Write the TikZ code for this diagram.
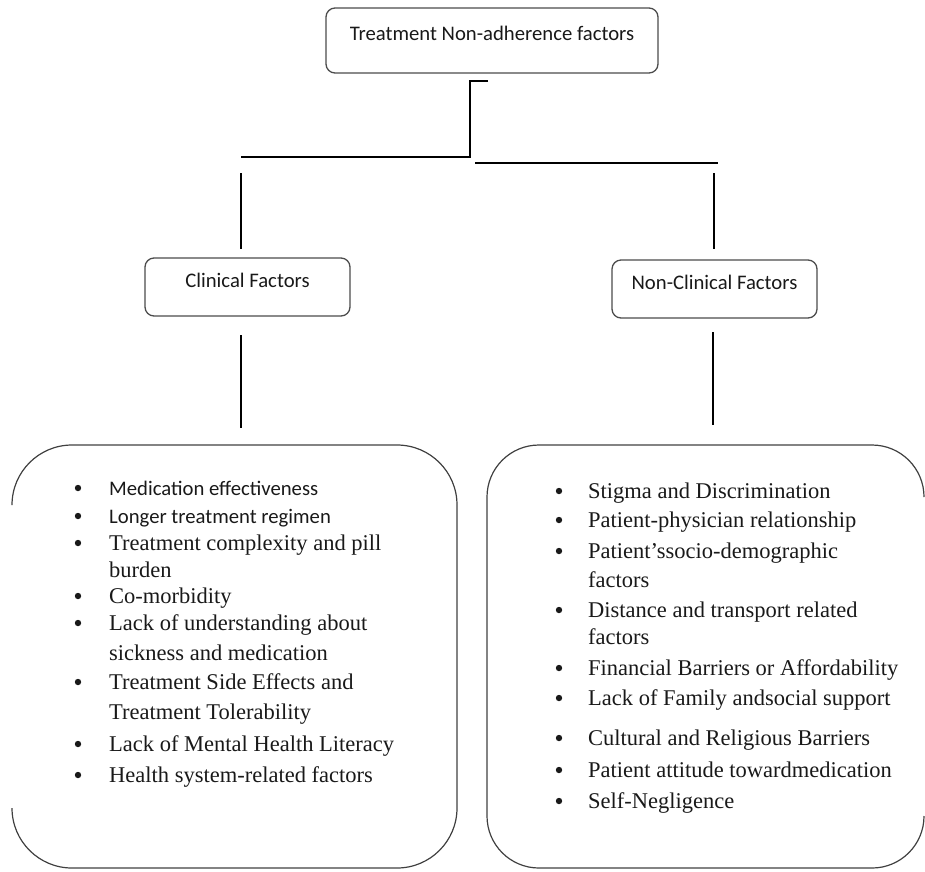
\documentclass[tikz,border=0pt]{standalone}
\usepackage{fontspec}
\setmainfont{Liberation Serif}
\newfontfamily\carlito{Carlito}
\newcommand{\calfont}{\carlito\fontsize{20.7}{24}\selectfont}

\tikzset{
  factorbox/.style={draw=black!70, line width=1.3pt, rounded corners=9pt,
    font=\calfont, text=black!90, text height=14pt, text depth=14pt,
    minimum width=205pt, minimum height=58pt},
  listbox/.style={draw=black!75, line width=1.2pt, rounded corners=#1},
  link/.style={line width=1.2pt, line join=miter},
  itemline/.style={anchor=base west, inner sep=0pt, text=black!90,
    font=\fontsize{22.5}{26}\selectfont},
}

\begin{document}
\begin{tikzpicture}[x=1pt, y=-1pt]
  \useasboundingbox (0,0) rectangle (925,871);

  \node[factorbox, minimum width=332pt, minimum height=65pt] (top) at (492,40.5) {Treatment Non-adherence factors};
  \node[factorbox] (clinical) at (247.5,287) {Clinical Factors};
  \node[factorbox] (nonclinical) at (714.5,289) {Non-Clinical Factors};

  \coordinate (tick) at (488,81);
  \coordinate (elbow) at (470,81);
  \coordinate (split) at (470,157);
  \coordinate (leftend) at (241,157);
  \coordinate (rstart) at (475,163);
  \coordinate (rend) at (718,163);
  \draw[link] (tick) -- (elbow) -- (split) -- (leftend);
  \draw[link] (rstart) -- (rend);
  \foreach \name/\x/\ya/\yb in {cu/241/173/249, nu/714/173/249, cd/241/335/428, nd/713/332/425} {
    \coordinate (\name-a) at (\x,\ya);
    \coordinate (\name-b) at (\x,\yb);
    \draw[link] (\name-a) -- (\name-b);
  }

  \draw[listbox=60pt] (12,505) -- (12,445) -- (457,445) -- (457,868) -- (12,868) -- (12,808);
  \draw[listbox=52pt] (924,497) -- (924,445) -- (487,445) -- (487,868) -- (924,868) -- (924,816);

  \foreach \y/\b/\txt [count=\n] in {
      495/1/{\calfont Medication effectiveness},
      523/1/{\calfont Longer treatment regimen},
      550/1/{Treatment complexity and pill},
      577/0/{burden},
      603/1/{Co-morbidity},
      630/1/{Lack of understanding about},
      660/0/{sickness and medication},
      689/1/{Treatment Side Effects and},
      719/0/{Treatment Tolerability},
      751/1/{Lack of Mental Health Literacy},
      782/1/{Health system-related factors}} {
    \node[itemline] (clin-\n) at (109,\y) {\txt};
    \ifnum\b=1 \fill[black!90] (78,\y-7) circle (3.2pt); \fi
  }

  \foreach \y/\b/\txt [count=\n] in {
      498/1/{Stigma and Discrimination},
      527/1/{Patient-physician relationship},
      558/1/{Patient’ssocio-demographic},
      587/0/{factors},
      617/1/{Distance and transport related},
      644/0/{factors},
      675/1/{Financial Barriers or Affordability},
      705/1/{Lack of Family andsocial support},
      745/1/{Cultural and Religious Barriers},
      777/1/{Patient attitude towardmedication},
      808/1/{Self-Negligence}} {
    \node[itemline] (nonclin-\n) at (588,\y) {\txt};
    \ifnum\b=1 \fill[black!90] (559,\y-7) circle (3.2pt); \fi
  }
\end{tikzpicture}
\end{document}
